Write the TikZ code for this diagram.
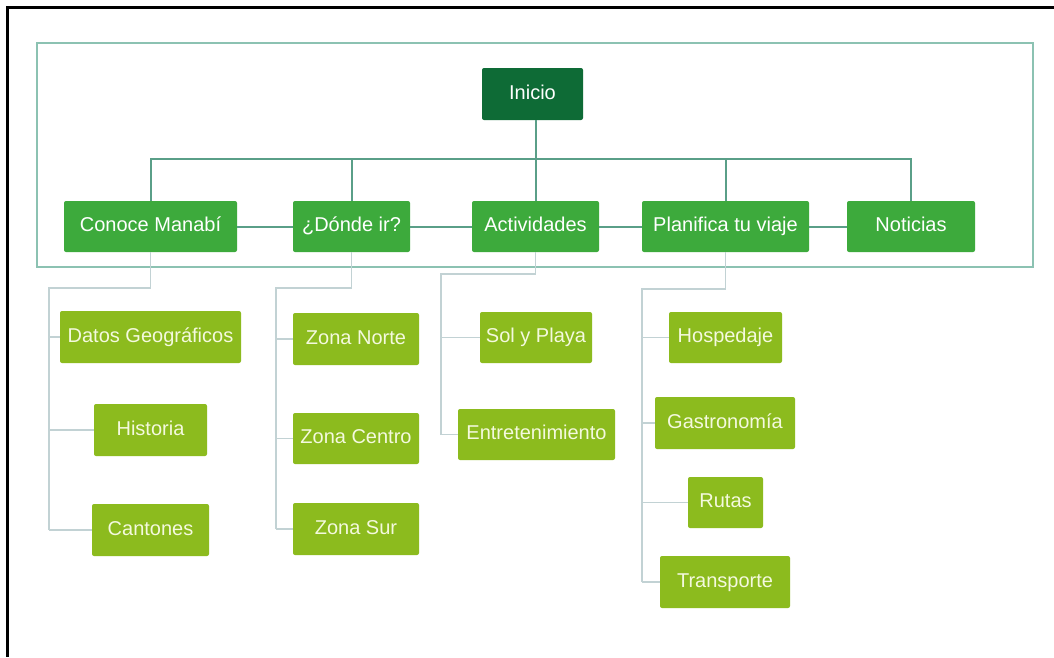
\documentclass[tikz,border=0pt]{standalone}
\usepackage{fontspec}
\setmainfont{Liberation Sans}
\definecolor{dgreen}{HTML}{0E6B36}
\definecolor{mgreen}{HTML}{3DAA3C}
\definecolor{lgreen}{HTML}{8CBB1E}
\definecolor{ltext}{HTML}{F4F9DE}
\definecolor{busc}{HTML}{5A9F88}
\definecolor{framec}{HTML}{8CC2B2}
\definecolor{childc}{HTML}{C2D2D4}
\begin{document}
\begin{tikzpicture}[x=1pt,y=-1pt,
  box/.style={rounded corners=2pt, inner sep=0pt, minimum height=51pt, text=white,
    text height=14.5pt, text depth=4.5pt,
    font=\fontsize{20}{23}\selectfont},
  topbox/.style={box, fill=dgreen},
  lvone/.style={box, fill=mgreen},
  lvtwo/.style={box, fill=lgreen, text=ltext},
  bus/.style={draw=busc, line width=2pt},
  child/.style={draw=childc, line width=1.5pt}]
\fill[white] (0,0) rectangle (1054,657);
\useasboundingbox (0,0) rectangle (1054,657);
% outer partial border
\draw[black, line width=3pt] (1054,7.5) -- (7.5,7.5) -- (7.5,657);
% frame
\draw[framec, line width=1.8pt] (37,43) rectangle (1033,267);

% nodes
\node[topbox, minimum width=101pt, minimum height=52pt] (ini) at (532.5,94) {Inicio};
\node[lvone, minimum width=173pt] (cm) at (150.5,226.5) {Conoce Manabí};
\node[lvone, minimum width=117pt] (dn) at (351.5,226.5) {¿Dónde ir?};
\node[lvone, minimum width=127pt] (act) at (535.5,226.5) {Actividades};
\node[lvone, minimum width=167pt] (pl) at (725.5,226.5) {Planifica tu viaje};
\node[lvone, minimum width=128pt] (no) at (911,226.5) {Noticias};

\node[lvtwo, minimum width=181pt, minimum height=52pt] (dg) at (150.5,337) {Datos Geográficos};
\node[lvtwo, minimum width=113pt, minimum height=52pt] (hi) at (150.5,430) {Historia};
\node[lvtwo, minimum width=117pt, minimum height=52pt] (ca) at (150.5,530) {Cantones};

\node[lvtwo, minimum width=126pt, minimum height=52pt] (zn) at (356,339) {Zona Norte};
\node[lvtwo, minimum width=126pt] (zc) at (356,438.5) {Zona Centro};
\node[lvtwo, minimum width=126pt, minimum height=52pt] (zs) at (356,529) {Zona Sur};

\node[lvtwo, minimum width=112pt] (sp) at (536,337.5) {Sol y Playa};
\node[lvtwo, minimum width=157pt] (en) at (536.5,434.5) {Entretenimiento};

\node[lvtwo, minimum width=113pt] (ho) at (725.5,337.5) {Hospedaje};
\node[lvtwo, minimum width=140pt, minimum height=52pt] (ga) at (725,423) {Gastronomía};
\node[lvtwo, minimum width=75pt] (ru) at (725.5,502.5) {Rutas};
\node[lvtwo, minimum width=130pt, minimum height=52pt] (tr) at (725,582) {Transporte};

% top-level connectors
\coordinate (busy) at (0,159);
\draw[bus] (cm.north) -- (cm.north |- busy) -- (no.north |- busy) -- (no.north);
\draw[bus] (dn.north |- busy) -- (dn.north);
\draw[bus] (pl.north |- busy) -- (pl.north);
\draw[bus] (ini.south -| act.north) -- (act.north);
\draw[bus] (cm.east) -- (dn.west);
\draw[bus] (dn.east) -- (act.west);
\draw[bus] (act.east) -- (pl.west);
\draw[bus] (pl.east) -- (no.west);

% children of Conoce Manabi
\coordinate (c1) at (49,288);
\draw[child] (cm.south) |- (c1) -- (c1 |- ca.west);
\draw[child] (dg.west) -- (dg.west -| c1);
\draw[child] (hi.west) -- (hi.west -| c1);
\draw[child] (ca.west) -- (ca.west -| c1);

% children of Donde ir
\coordinate (c2) at (276,288);
\draw[child] (dn.south) |- (c2) -- (c2 |- zs.west);
\draw[child] (zn.west) -- (zn.west -| c2);
\draw[child] (zc.west) -- (zc.west -| c2);
\draw[child] (zs.west) -- (zs.west -| c2);

% children of Actividades
\coordinate (c3) at (441,274);
\draw[child] (act.south) |- (c3) -- (c3 |- en.west);
\draw[child] (sp.west) -- (sp.west -| c3);
\draw[child] (en.west) -- (en.west -| c3);

% children of Planifica
\coordinate (c4) at (642,289);
\draw[child] (pl.south) |- (c4) -- (c4 |- tr.west);
\draw[child] (ho.west) -- (ho.west -| c4);
\draw[child] (ga.west) -- (ga.west -| c4);
\draw[child] (ru.west) -- (ru.west -| c4);
\draw[child] (tr.west) -- (tr.west -| c4);
\end{tikzpicture}
\end{document}
